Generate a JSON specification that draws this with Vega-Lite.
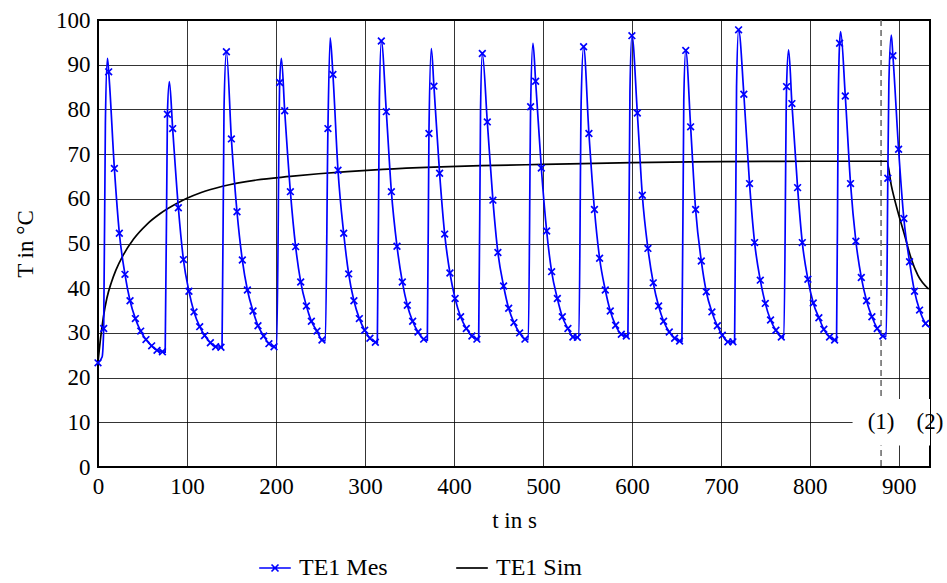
{
  "$schema": "https://vega.github.io/schema/vega-lite/v6.json",
  "width": 832,
  "height": 447,
  "autosize": {"type": "none"},
  "padding": {"left": 98, "top": 20, "right": 17, "bottom": 116},
  "background": "white",
  "config": {
    "font": "Liberation Serif",
    "view": {"stroke": "black", "strokeWidth": 2},
    "axis": {
      "labelFont": "Liberation Serif", "labelFontSize": 23, "labelColor": "black", "labelFlush": false,
      "titleFont": "Liberation Serif", "titleFontSize": 23, "titleFontWeight": "normal", "titleColor": "black",
      "grid": true, "gridColor": "black", "gridWidth": 0.8, "gridOpacity": 1,
      "ticks": false, "domain": false, "labelPadding": 8
    }
  },
  "datasets": {
    "mes": [
      {"t":0,"T":23.3,"m":1},{"t":4.6,"T":24.6,"m":0},{"t":6.4,"T":31.0,"m":1},{"t":8.3,"T":77.0,"m":0},{"t":10.6,"T":91.4,"m":0},
      {"t":12.0,"T":88.4,"m":1},{"t":18.4,"T":66.8,"m":1},{"t":24.0,"T":52.3,"m":1},{"t":30.3,"T":43.1,"m":1},{"t":36.0,"T":37.2,"m":1},
      {"t":42.0,"T":33.2,"m":1},{"t":48.0,"T":30.4,"m":1},{"t":53.9,"T":28.5,"m":1},{"t":60.3,"T":27.1,"m":1},{"t":66.3,"T":26.1,"m":1},
      {"t":72.4,"T":25.8,"m":1},{"t":75.5,"T":25.7,"m":0},{"t":78.0,"T":78.9,"m":1},{"t":80.2,"T":86.2,"m":0},{"t":83.9,"T":75.7,"m":1},
      {"t":90.3,"T":58.0,"m":1},{"t":96.0,"T":46.4,"m":1},{"t":102.2,"T":39.3,"m":1},{"t":107.9,"T":34.7,"m":1},{"t":114.3,"T":31.4,"m":1},
      {"t":119.9,"T":29.4,"m":1},{"t":126.3,"T":27.8,"m":1},{"t":132.2,"T":26.9,"m":1},{"t":138.2,"T":26.8,"m":1},{"t":139.4,"T":26.8,"m":0},
      {"t":141.6,"T":80.0,"m":0},{"t":144.3,"T":92.9,"m":1},{"t":149.9,"T":73.4,"m":1},{"t":156.2,"T":57.1,"m":1},{"t":162.2,"T":46.3,"m":1},
      {"t":167.9,"T":39.6,"m":1},{"t":174.2,"T":34.9,"m":1},{"t":179.8,"T":31.6,"m":1},{"t":186.2,"T":29.3,"m":1},{"t":192.1,"T":27.6,"m":1},
      {"t":197.8,"T":26.9,"m":1},{"t":200.8,"T":26.7,"m":0},{"t":204.2,"T":86.0,"m":1},{"t":206.1,"T":91.4,"m":0},{"t":209.8,"T":79.7,"m":1},
      {"t":216.2,"T":61.6,"m":1},{"t":222.1,"T":49.3,"m":1},{"t":227.8,"T":41.4,"m":1},{"t":234.2,"T":36.0,"m":1},{"t":239.8,"T":32.6,"m":1},
      {"t":246.1,"T":30.4,"m":1},{"t":251.7,"T":28.4,"m":1},{"t":255.5,"T":28.2,"m":0},{"t":258.4,"T":75.7,"m":1},{"t":260.9,"T":96.0,"m":0},
      {"t":264.0,"T":87.8,"m":1},{"t":269.7,"T":66.4,"m":1},{"t":276.1,"T":52.3,"m":1},{"t":281.7,"T":43.2,"m":1},{"t":287.6,"T":37.2,"m":1},
      {"t":293.7,"T":33.2,"m":1},{"t":299.7,"T":30.6,"m":1},{"t":305.6,"T":28.8,"m":1},{"t":311.7,"T":27.9,"m":1},{"t":313.9,"T":27.8,"m":0},
      {"t":316.2,"T":82.0,"m":0},{"t":318.4,"T":95.3,"m":1},{"t":324.0,"T":79.5,"m":1},{"t":329.7,"T":61.6,"m":1},{"t":336.0,"T":49.4,"m":1},
      {"t":342.0,"T":41.4,"m":1},{"t":347.6,"T":36.2,"m":1},{"t":353.6,"T":32.6,"m":1},{"t":359.6,"T":30.2,"m":1},{"t":366.0,"T":28.6,"m":1},
      {"t":370.1,"T":28.4,"m":0},{"t":371.9,"T":74.6,"m":1},{"t":374.6,"T":93.6,"m":0},{"t":377.5,"T":85.2,"m":1},{"t":383.9,"T":65.7,"m":1},
      {"t":389.6,"T":52.1,"m":1},{"t":395.5,"T":43.4,"m":1},{"t":401.3,"T":37.7,"m":1},{"t":407.5,"T":33.6,"m":1},{"t":413.9,"T":31.0,"m":1},
      {"t":420.2,"T":29.3,"m":1},{"t":425.8,"T":28.6,"m":1},{"t":427.8,"T":28.5,"m":0},{"t":429.9,"T":80.0,"m":0},{"t":431.9,"T":92.5,"m":1},
      {"t":437.5,"T":77.2,"m":1},{"t":443.8,"T":59.7,"m":1},{"t":449.4,"T":48.0,"m":1},{"t":455.8,"T":40.5,"m":1},{"t":461.5,"T":35.5,"m":1},
      {"t":467.4,"T":32.3,"m":1},{"t":473.8,"T":30.0,"m":1},{"t":479.8,"T":28.6,"m":1},{"t":483.6,"T":28.5,"m":0},{"t":486.2,"T":80.6,"m":1},
      {"t":488.8,"T":94.8,"m":0},{"t":491.8,"T":86.3,"m":1},{"t":498.2,"T":66.9,"m":1},{"t":504.2,"T":52.8,"m":1},{"t":509.8,"T":43.7,"m":1},
      {"t":516.2,"T":37.7,"m":1},{"t":521.8,"T":33.6,"m":1},{"t":528.1,"T":31.0,"m":1},{"t":533.7,"T":29.1,"m":1},{"t":538.7,"T":29.0,"m":1},
      {"t":540.4,"T":29.0,"m":0},{"t":543.0,"T":82.0,"m":0},{"t":545.7,"T":94.0,"m":1},{"t":551.7,"T":74.6,"m":1},{"t":557.9,"T":57.6,"m":1},
      {"t":563.7,"T":46.7,"m":1},{"t":570.1,"T":39.6,"m":1},{"t":575.7,"T":34.9,"m":1},{"t":581.7,"T":31.7,"m":1},{"t":588.1,"T":29.7,"m":1},
      {"t":593.7,"T":29.3,"m":1},{"t":595.5,"T":29.2,"m":0},{"t":597.8,"T":84.0,"m":0},{"t":600.0,"T":96.5,"m":1},{"t":606.1,"T":79.2,"m":1},
      {"t":611.7,"T":60.8,"m":1},{"t":618.0,"T":48.9,"m":1},{"t":624.0,"T":41.2,"m":1},{"t":630.0,"T":36.0,"m":1},{"t":635.6,"T":32.6,"m":1},
      {"t":642.0,"T":30.2,"m":1},{"t":648.0,"T":28.8,"m":1},{"t":653.6,"T":28.2,"m":1},{"t":656.2,"T":28.1,"m":0},{"t":658.3,"T":82.0,"m":0},
      {"t":660.5,"T":93.2,"m":1},{"t":666.0,"T":76.1,"m":1},{"t":671.6,"T":57.6,"m":1},{"t":678.0,"T":46.1,"m":1},{"t":683.6,"T":39.2,"m":1},
      {"t":689.9,"T":34.7,"m":1},{"t":696.0,"T":31.6,"m":1},{"t":701.6,"T":29.5,"m":1},{"t":707.9,"T":28.0,"m":1},{"t":713.5,"T":28.0,"m":1},
      {"t":715.4,"T":27.9,"m":0},{"t":717.6,"T":85.0,"m":0},{"t":719.9,"T":97.8,"m":1},{"t":725.8,"T":83.4,"m":1},{"t":732.2,"T":63.4,"m":1},
      {"t":737.9,"T":50.2,"m":1},{"t":744.3,"T":41.8,"m":1},{"t":749.9,"T":36.6,"m":1},{"t":755.8,"T":32.9,"m":1},{"t":761.8,"T":30.6,"m":1},
      {"t":767.9,"T":29.1,"m":1},{"t":770.8,"T":29.0,"m":0},{"t":773.8,"T":85.1,"m":1},{"t":776.1,"T":93.3,"m":0},{"t":779.8,"T":81.3,"m":1},
      {"t":786.2,"T":62.5,"m":1},{"t":791.5,"T":50.2,"m":1},{"t":797.8,"T":42.0,"m":1},{"t":803.8,"T":36.7,"m":1},{"t":810.1,"T":33.4,"m":1},
      {"t":815.7,"T":30.8,"m":1},{"t":822.1,"T":29.1,"m":1},{"t":827.8,"T":28.4,"m":1},{"t":830.0,"T":28.3,"m":0},{"t":831.8,"T":80.0,"m":0},
      {"t":833.4,"T":94.8,"m":1},{"t":834.6,"T":97.4,"m":0},{"t":839.8,"T":83.0,"m":1},{"t":845.7,"T":63.4,"m":1},{"t":851.7,"T":50.5,"m":1},
      {"t":857.8,"T":42.4,"m":1},{"t":863.7,"T":37.2,"m":1},{"t":869.7,"T":33.6,"m":1},{"t":875.7,"T":31.0,"m":1},{"t":882.0,"T":29.3,"m":1},
      {"t":885.8,"T":29.2,"m":0},{"t":887.6,"T":64.6,"m":1},{"t":888.8,"T":86.0,"m":0},{"t":891.5,"T":96.6,"m":0},{"t":893.3,"T":92.0,"m":1},
      {"t":899.7,"T":71.1,"m":1},{"t":905.6,"T":55.6,"m":1},{"t":912.0,"T":45.9,"m":1},{"t":917.6,"T":39.3,"m":1},{"t":923.3,"T":35.1,"m":1},
      {"t":930.0,"T":32.1,"m":1},{"t":934.8,"T":31.2,"m":0}
    ],
    "sim": [
      {"t":0,"T":23.5},{"t":3,"T":29.0},{"t":6,"T":33.5},{"t":10,"T":37.8},{"t":15,"T":41.3},{"t":20,"T":44.0},
      {"t":28,"T":47.3},{"t":40,"T":51.0},{"t":55,"T":54.3},{"t":70,"T":56.7},{"t":90,"T":59.1},{"t":100,"T":60.1},
      {"t":116,"T":61.4},{"t":140,"T":62.8},{"t":178,"T":64.2},{"t":216,"T":65.0},{"t":248,"T":65.6},{"t":280,"T":66.1},
      {"t":320,"T":66.6},{"t":377,"T":67.1},{"t":430,"T":67.4},{"t":500,"T":67.7},{"t":600,"T":68.1},{"t":700,"T":68.3},
      {"t":800,"T":68.4},{"t":886.5,"T":68.4},{"t":891.5,"T":63.0},{"t":898.9,"T":57.1},{"t":906.4,"T":51.9},
      {"t":913.9,"T":46.6},{"t":921.3,"T":42.9},{"t":933.5,"T":39.8}
    ]
  },
  "encoding": {
    "x": {"field": "t", "type": "quantitative", "scale": {"domain": [0, 935], "nice": false, "zero": false},
      "axis": {"values": [0,100,200,300,400,500,600,700,800,900], "title": "t in s", "titlePadding": 11}},
    "y": {"field": "T", "type": "quantitative", "scale": {"domain": [0, 100], "nice": false},
      "axis": {"values": [0,10,20,30,40,50,60,70,80,90,100], "title": "T in °C", "titlePadding": 18}}
  },
  "layer": [
    {
      "data": {"values": [{"t": 880}]},
      "mark": {"type": "rule", "strokeDash": [6, 4], "color": "#666666", "strokeWidth": 1.5},
      "encoding": {"x": {"field": "t", "type": "quantitative"}, "y": null}
    },
    {
      "data": {"values": [{"t": 848, "t2": 935, "T": 4.8, "T2": 15.2}]},
      "mark": {"type": "rect", "fill": "white"},
      "encoding": {"x2": {"field": "t2"}, "y2": {"field": "T2"}}
    },
    {
      "data": {"values": [{"t": 880, "T": 10, "label": "(1)"}, {"t": 935, "T": 10, "label": "(2)"}]},
      "mark": {"type": "text", "font": "Liberation Serif", "fontSize": 23, "baseline": "middle", "align": "center", "color": "black"},
      "encoding": {"text": {"field": "label"}}
    },
    {
      "data": {"name": "sim"},
      "mark": {"type": "line", "strokeWidth": 1.7, "interpolate": "monotone"},
      "encoding": {
        "color": {"datum": "TE1 Sim", "type": "nominal",
          "scale": {"domain": ["TE1 Mes", "TE1 Sim"], "range": ["#0000ff", "#000000"]},
          "legend": {
            "orient": "none", "legendX": 160, "legendY": 531, "direction": "horizontal", "title": null,
            "labelFont": "Liberation Serif", "labelFontSize": 24, "labelColor": "black",
            "symbolType": "stroke", "symbolSize": 1000, "symbolStrokeWidth": 1.7, "symbolFillColor": "transparent",
            "columnPadding": 64, "labelOffset": 7,
            "encode": {"symbols": {"update": {"shape": {"signal": "datum.value === 'TE1 Mes' ? 'M-1,0L1,0M-0.22,-0.22L0.22,0.22M-0.22,0.22L0.22,-0.22' : 'M-1,0L1,0'"}}}}
          }
        }
      }
    },
    {
      "data": {"name": "mes"},
      "mark": {"type": "line", "strokeWidth": 1.7, "interpolate": "monotone"},
      "encoding": {"color": {"datum": "TE1 Mes", "type": "nominal"}}
    },
    {
      "data": {"name": "mes"},
      "transform": [{"filter": "datum.m == 1"}],
      "mark": {"type": "point", "shape": "M-1,-1L1,1M-1,1L1,-1", "size": 45, "strokeWidth": 1.7, "filled": false, "color": "#0000ff", "opacity": 1}
    }
  ]
}
